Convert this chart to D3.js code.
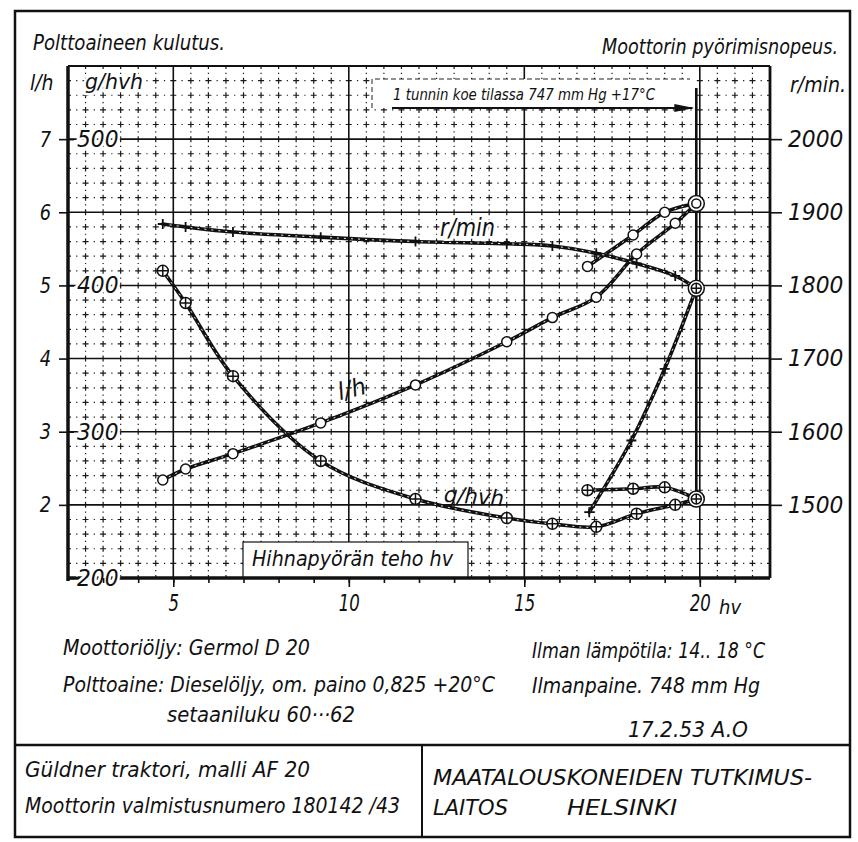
<!DOCTYPE html>
<html><head><meta charset="utf-8">
<script src="https://cdn.jsdelivr.net/npm/d3@7"></script>
<style>
body{margin:0;background:#fff}
text{font-family:"DejaVu Sans Condensed","DejaVu Sans",sans-serif;font-stretch:condensed;font-style:italic;fill:#111}
</style></head><body>
<script>
// koepisteet: hihnapyörän teho hv
var powerMain = [4.7, 5.35, 6.7, 9.2, 11.9, 14.5, 15.8, 17.05, 18.2, 19.3, 19.9];
var fuelMain  = [2.34, 2.49, 2.70, 3.12, 3.64, 4.23, 4.56, 4.84, 5.43, 5.85, 6.12]; // l/h
var specMain  = [410, 388, 338, 280, 254, 241, 237, 235, 244, 250, 254];          // g/hvh
var rpmMain   = [1884, 1880, 1873, 1866, 1860, 1857, 1854, 1844, 1830, 1813, 1796]; // r/min
// ylikuormitus haara
var powerOver = [16.8, 18.1, 19.0, 19.9];
var fuelOver  = [5.26, 5.69, 6.0, 6.12];
var specOver  = [260, 261, 262, 254];
var powerRpmOver = [16.85, 18.05, 19.0, 19.9];
var rpmOver   = [1490, 1588, 1686, 1796];

var xTicks = [5, 10, 15, 20];
var fuelTicks = [2, 3, 4, 5, 6, 7];
var specTicks = [200, 300, 400, 500];
var rpmTicks = [1500, 1600, 1700, 1800, 1900, 2000];

var W = 858, H = 842;
var svg = d3.select("body").append("svg").attr("width", W).attr("height", H);
svg.append("rect").attr("width", W).attr("height", H).attr("fill", "#fff");

var X = d3.scaleLinear().domain([2, 22]).range([68, 770]);
var Y = d3.scaleLinear().domain([1, 8]).range([578, 66]);       // l/h
var G = d3.scaleLinear().domain([200, 550]).range([578, 66]);   // g/hvh
var R = d3.scaleLinear().domain([1400, 2100]).range([578, 66]); // r/min

// ulkokehys
svg.append("rect").attr("x", 15).attr("y", 11).attr("width", 835).attr("height", 826)
  .attr("fill", "none").attr("stroke", "#111").attr("stroke-width", 2.5);
svg.append("line").attr("x1", 15).attr("x2", 850).attr("y1", 745).attr("y2", 745)
  .attr("stroke", "#111").attr("stroke-width", 2.5);
svg.append("line").attr("x1", 422).attr("x2", 422).attr("y1", 745).attr("y2", 837)
  .attr("stroke", "#111").attr("stroke-width", 2);

// ruudukko: ristikuvio
var colStep = X(2.5) - X(2), rowStep = Y(1) - Y(1.2), arm = 3;
var grid = svg.append("g").attr("stroke", "#1a1a1a").attr("stroke-width", 1.2);
var minorX = d3.range(5, 44).map(function(i) { return i / 2; }).filter(function(v) { return v % 5 !== 0; });
var minorY = d3.range(6, 40).map(function(i) { return i / 5; }).filter(function(v) { return Math.abs(v - Math.round(v)) > 1e-6; });
grid.selectAll("line.mx").data(minorX).enter().append("line")
  .attr("x1", X).attr("x2", X).attr("y1", Y(8)).attr("y2", Y(1))
  .attr("stroke-dasharray", (2 * arm) + "," + (rowStep / 2 - arm - 0.6) + ",1.2," + (rowStep / 2 - arm - 0.6))
  .attr("stroke-dashoffset", arm);
grid.selectAll("line.my").data(minorY).enter().append("line")
  .attr("y1", Y).attr("y2", Y).attr("x1", X(2)).attr("x2", X(22))
  .attr("stroke-dasharray", (2 * arm) + "," + (colStep / 2 - arm - 0.6) + ",1.2," + (colStep / 2 - arm - 0.6))
  .attr("stroke-dashoffset", arm);
var major = svg.append("g").attr("stroke", "#111").attr("stroke-width", 1.6);
major.selectAll("line.vx").data(xTicks).enter().append("line")
  .attr("x1", X).attr("x2", X).attr("y1", Y(8)).attr("y2", Y(1));
major.selectAll("line.hy").data(fuelTicks).enter().append("line")
  .attr("y1", Y).attr("y2", Y).attr("x1", X(2)).attr("x2", X(22));

// valkoiset tekstilaatikot
svg.append("rect").attr("x", 372).attr("y", 79).attr("width", 322).attr("height", 29).attr("fill", "#fff");
svg.append("path").attr("d", "M372,108V79H690").attr("fill", "none")
  .attr("stroke", "#222").attr("stroke-width", 1).attr("stroke-dasharray", "5,3");
svg.append("rect").attr("x", 243).attr("y", 542).attr("width", 225).attr("height", 36)
  .attr("fill", "#fff").attr("stroke", "#111").attr("stroke-width", 1.2);

// 1 tunnin koe: pystyviiva ja nuoli
svg.append("line").attr("x1", X(19.9)).attr("x2", X(19.9)).attr("y1", Y(7.7)).attr("y2", R(1500))
  .attr("stroke", "#111").attr("stroke-width", 2.6);
svg.append("line").attr("x1", 392).attr("x2", X(19.9) - 4).attr("y1", 108).attr("y2", 108)
  .attr("stroke", "#111").attr("stroke-width", 2);
svg.append("path").attr("d", "M" + (X(19.9) - 2) + ",108 l-20,-4 l0,8 z").attr("fill", "#111");

// käyrät
function curve(xs, ys, scale) {
  return d3.line().x(function(d, i) { return X(xs[i]); }).y(function(d) { return scale(d); })
    .curve(d3.curveCatmullRom.alpha(0.5))(ys);
}
var curves = [
  [powerMain, fuelMain, Y], [powerOver, fuelOver, Y],
  [powerMain, specMain, G], [powerOver, specOver, G],
  [powerMain, rpmMain, R], [powerRpmOver, rpmOver, R]
];
var cg = svg.append("g").attr("fill", "none");
curves.forEach(function(c) {
  var d = curve(c[0], c[1], c[2]);
  cg.append("path").attr("d", d).attr("stroke", "#111").attr("stroke-width", 3.6).attr("stroke-linecap", "round");
  cg.append("path").attr("d", d).attr("stroke", "#fff").attr("stroke-width", 0.9).attr("stroke-dasharray", "2,5");
});

// merkit
var mk = svg.append("g").attr("stroke", "#111").attr("stroke-width", 1.5);
function ring(x, y, r, plus) {
  mk.append("circle").attr("cx", x).attr("cy", y).attr("r", r).attr("fill", "#fff");
  if (plus) mk.append("path").attr("d", "M" + (x - r) + "," + y + "h" + 2 * r + "M" + x + "," + (y - r) + "v" + 2 * r);
}
function cross(x, y) {
  mk.append("path").attr("d", "M" + (x - 5) + "," + y + "h10M" + x + "," + (y - 5) + "v10").attr("stroke-width", 1.8);
}
var last = powerMain.length - 1;
powerMain.forEach(function(p, i) {
  if (i === last) return;
  ring(X(p), Y(fuelMain[i]), 5, false);
  ring(X(p), G(specMain[i]), 5.5, true);
  cross(X(p), R(rpmMain[i]));
});
powerOver.slice(0, -1).forEach(function(p, i) {
  ring(X(p), Y(fuelOver[i]), 5, false);
  ring(X(p), G(specOver[i]), 5.5, true);
});
powerRpmOver.slice(0, -1).forEach(function(p, i) { cross(X(p), R(rpmOver[i])); });
ring(X(powerMain[last]), Y(fuelMain[last]), 8, false); ring(X(powerMain[last]), Y(fuelMain[last]), 4.5, false);
ring(X(powerMain[last]), G(specMain[last]), 8, false); ring(X(powerMain[last]), G(specMain[last]), 5, true);
ring(X(powerMain[last]), R(rpmMain[last]), 8, false); ring(X(powerMain[last]), R(rpmMain[last]), 5, true);

// reunat
var bd = svg.append("g").attr("stroke", "#111");
bd.append("line").attr("x1", X(2)).attr("x2", X(2)).attr("y1", Y(8)).attr("y2", Y(1) + 3).attr("stroke-width", 3.5);
bd.append("line").attr("x1", X(2)).attr("x2", X(22)).attr("y1", Y(1)).attr("y2", Y(1)).attr("stroke-width", 3.5);
bd.append("line").attr("x1", X(2)).attr("x2", X(22)).attr("y1", Y(8)).attr("y2", Y(8)).attr("stroke-width", 2);
bd.append("line").attr("x1", X(22)).attr("x2", X(22)).attr("y1", Y(8)).attr("y2", Y(1)).attr("stroke-width", 2.8);

// akselit
function styleAxis(g, size, k) {
  g.select(".domain").remove();
  g.attr("font-family", null);
  g.selectAll(".tick line").attr("stroke", "#111").attr("stroke-width", 1.6);
  g.selectAll(".tick text").attr("font-size", size).attr("fill", "#111").each(function() {
    if (k) d3.select(this).attr("textLength", this.getComputedTextLength() * k).attr("lengthAdjust", "spacingAndGlyphs");
  });
}
var axL = svg.append("g").attr("transform", "translate(" + X(2) + ",0)")
  .call(d3.axisLeft(Y).tickValues(fuelTicks).tickSize(9).tickPadding(8).tickFormat(d3.format("d")));
styleAxis(axL, 22, 0.9);
var axG = svg.append("g").attr("transform", "translate(" + X(2) + ",0)")
  .call(d3.axisRight(G).tickValues(specTicks).tickSize(6).tickPadding(3).tickFormat(d3.format("d")));
styleAxis(axG, 23, 1.05);
axG.selectAll(".tick text").attr("stroke", "#fff").attr("stroke-width", 5).attr("paint-order", "stroke");
var axR = svg.append("g").attr("transform", "translate(" + X(22) + ",0)")
  .call(d3.axisRight(R).tickValues(rpmTicks).tickSize(12).tickPadding(6).tickFormat(d3.format("d")));
styleAxis(axR, 23, 1.05);
var axM = svg.append("g").attr("transform", "translate(0," + Y(1) + ")")
  .call(d3.axisBottom(X).tickValues(d3.range(3, 22)).tickSize(5).tickFormat(""));
styleAxis(axM, 10);
var axB = svg.append("g").attr("transform", "translate(0," + Y(1) + ")")
  .call(d3.axisBottom(X).tickValues(xTicks).tickSize(9).tickPadding(8).tickFormat(d3.format("d")));
styleAxis(axB, 23, 0.8);

// tekstit
function txt(x, y, s, size, opts) {
  opts = opts || {};
  var t = svg.append("text").attr("x", x).attr("y", y).attr("font-size", size).text(s);
  if (opts.anchor) t.attr("text-anchor", opts.anchor);
  if (opts.width) t.attr("textLength", opts.width).attr("lengthAdjust", "spacingAndGlyphs");
  if (opts.rotate) t.attr("transform", "rotate(" + opts.rotate + "," + x + "," + y + ")");
  if (opts.halo) t.attr("stroke", "#fff").attr("stroke-width", 5).attr("paint-order", "stroke");
  return t;
}
txt(33, 50, "Polttoaineen kulutus.", 21, {width: 192});
txt(838, 54, "Moottorin pyörimisnopeus.", 21, {anchor: "end", width: 236});
txt(30, 90, "l/h", 21);
txt(85, 89, "g/hvh", 22, {halo: true, width: 58});
txt(790, 92, "r/min.", 21, {width: 56});
txt(393, 100, "1 tunnin koe tilassa  747 mm Hg +17°C", 15, {width: 262});

txt(X(12.6), R(1867), "r/min", 24, {halo: true, width: 55});
txt(X(9.75), Y(3.43), "l/h", 24, {rotate: -14, width: 28});
txt(X(12.7), G(252), "g/hvh", 22, {rotate: 4, width: 60});
txt(252, 566, "Hihnapyörän teho hv", 22, {width: 201});
txt(X(20.55), 614, "hv", 20);

txt(63, 655, "Moottoriöljy: Germol  D 20", 21, {width: 247});
txt(63, 692, "Polttoaine: Dieselöljy, om. paino 0,825 +20°C", 21, {width: 432});
txt(167, 722, "setaaniluku 60···62", 21, {width: 188});
txt(532, 658, "Ilman lämpötila: 14.. 18 °C", 21, {width: 233});
txt(532, 693, "Ilmanpaine. 748 mm Hg", 21, {width: 228});
txt(628, 737, "17.2.53 A.O", 21, {width: 120});
txt(25, 777, "Güldner  traktori, malli AF 20", 21, {width: 285});
txt(25, 813, "Moottorin valmistusnumero 180142 /43", 21, {width: 375});
txt(433, 785, "MAATALOUSKONEIDEN  TUTKIMUS-", 21, {width: 379});
txt(433, 815, "LAITOS", 21, {width: 75});
txt(567, 815, "HELSINKI", 21, {width: 110});
</script>
</body></html>
